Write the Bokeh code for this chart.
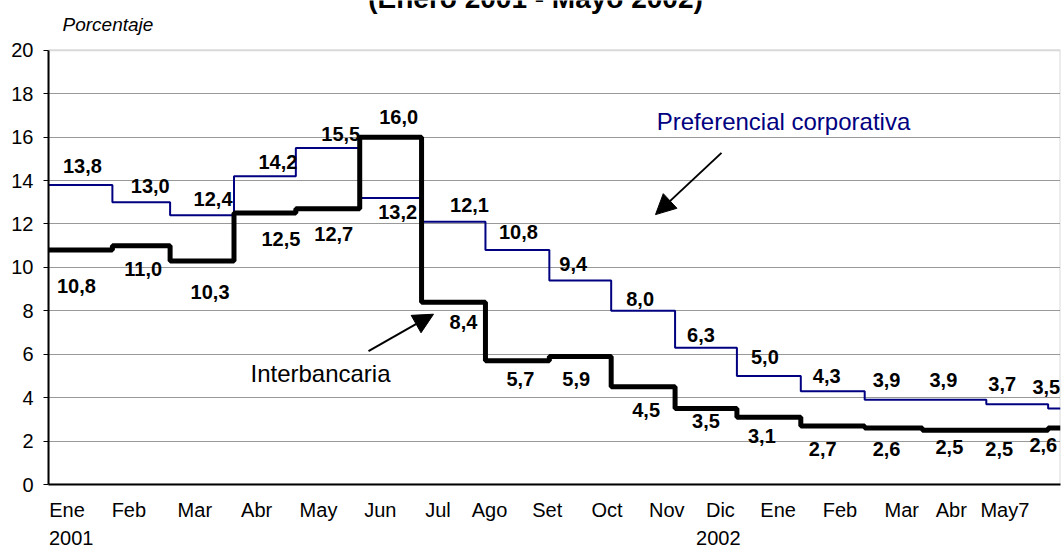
from bokeh.plotting import figure
from bokeh.models import Range1d, FixedTicker, LinearAxis, Label, Arrow, NormalHead, BoxAnnotation
from bokeh.embed import file_html
from bokeh.resources import INLINE
from bokeh.core.properties import value
import pandas as pd

# ---------------- data ----------------
period_starts = ["2001-01-01", "2001-02-01", "2001-03-01", "2001-04-01", "2001-05-01",
                 "2001-06-01", "2001-07-01", "2001-08-01", "2001-09-01", "2001-10-01",
                 "2001-11-01", "2001-12-01", "2002-01-01", "2002-02-01", "2002-03-01",
                 "2002-04-01", "2002-05-01"]
period_end = "2002-05-07"
preferencial = [13.8, 13.0, 12.4, 14.2, 15.5, 13.2, 12.1, 10.8, 9.4, 8.0, 6.3, 5.0, 4.3, 3.9, 3.9, 3.7, 3.5]
interbancaria = [10.8, 11.0, 10.3, 12.5, 12.7, 16.0, 8.4, 5.7, 5.9, 4.5, 3.5, 3.1, 2.7, 2.6, 2.5, 2.5, 2.6]
month_labels = ["Ene", "Feb", "Mar", "Abr", "May", "Jun", "Jul", "Ago", "Set", "Oct",
                "Nov", "Dic", "Ene", "Feb", "Mar", "Abr", "May7"]
year_labels = ["2001", "2002"]
y_max = 20
y_ticks = list(range(0, y_max + 1, 2))

# ---------------- styles / placement ----------------
W, H = 1062, 547
B_LEFT, B_RIGHT, B_BOTTOM = 48, 2, 61
PLOT_TOP_GAP = 50          # pixels between canvas top and the "20" line
month_label_pos = [9, 39, 71, 101, 131, 161, 189, 214, 242, 271, 300, 326, 354, 384, 414, 438, 464]
year_label_pos = [11, 325]
pref_dx = [2, 9, 11, 13, 13, 7, 16, 1, -7, -3, -5, -4, -6, -7, -11, -15, -8]
pref_dy = [-19, -16, -16, -14, -14, 14, -17, -18, -16, -12, -13, -19, -15, -20, -20, -20, -22]
inter_dx = [-4, 2, 8, 16, 6, 8, 10, 3, -4, 3, 0, -7, -10, -7, -5, -18, -11]
inter_dy = [36, 23, 31, 26, 25, -20, 20, 18, 23, 23, 12, 19, 23, 21, 17, 19, 17]

FONT = "Liberation Sans"
NAVY = "#000080"
GREY = "#808080"

origin = pd.Timestamp(period_starts[0])
starts = [(pd.Timestamp(s) - origin).days for s in period_starts]
end_day = (pd.Timestamp(period_end) - origin).days
xs = starts + [end_day]
mids = [(xs[i] + xs[i + 1]) / 2 for i in range(len(starts))]

frame_h = H - B_BOTTOM
y_top = y_max * frame_h / (frame_h - PLOT_TOP_GAP)
px_per_unit = (frame_h - PLOT_TOP_GAP) / y_max
px_per_day = (W - B_LEFT - B_RIGHT) / end_day

def fmt(v):
    return f"{v:.1f}".replace(".", ",")

def sx(px):  # page x pixel -> data x
    return (px - B_LEFT) / px_per_day

def sy(py):  # page y pixel -> data y
    return (frame_h - py) / px_per_unit

p = figure(width=W, height=H, output_backend="svg", toolbar_location=None,
           x_range=Range1d(0, end_day), y_range=Range1d(0, y_top),
           min_border_left=B_LEFT, min_border_right=B_RIGHT, min_border_top=0,
           min_border_bottom=B_BOTTOM)
p.outline_line_color = None
p.background_fill_color = "white"
p.border_fill_color = "white"

# plot-area box (grey top/right border)
p.add_layout(BoxAnnotation(left=0, right=end_day, bottom=0, top=y_max, fill_alpha=0,
                           line_color=GREY, line_width=2, level="underlay"))

# axes
p.yaxis.ticker = FixedTicker(ticks=y_ticks)
p.yaxis.bounds = (0, y_max)
p.yaxis.major_tick_out = 5
p.yaxis.major_tick_in = 0
p.yaxis.minor_tick_line_color = None
p.yaxis.axis_line_width = 2
p.yaxis.axis_line_color = "black"
p.yaxis.major_tick_line_color = "black"
p.yaxis.major_label_standoff = 10
p.yaxis.major_label_text_font = FONT
p.yaxis.major_label_text_font_size = "20px"
p.yaxis.major_label_text_color = "black"

p.xaxis.ticker = FixedTicker(ticks=month_label_pos)
p.xaxis.major_label_overrides = {pos: lab for pos, lab in zip(month_label_pos, month_labels)}
p.xaxis.major_tick_line_color = None
p.xaxis.minor_tick_line_color = None
p.xaxis.major_tick_out = 0
p.xaxis.major_tick_in = 0
p.xaxis.axis_line_width = 2
p.xaxis.axis_line_color = "black"
p.xaxis.major_label_standoff = 14
p.xaxis.major_label_text_font = FONT
p.xaxis.major_label_text_font_size = "20px"
p.xaxis.major_label_text_color = "black"

year_axis = LinearAxis(ticker=FixedTicker(ticks=year_label_pos),
                       major_label_overrides={pos: lab for pos, lab in zip(year_label_pos, year_labels)},
                       axis_line_color=None, major_tick_line_color=None, minor_tick_line_color=None,
                       major_tick_out=0, major_tick_in=0, major_label_standoff=7,
                       major_label_text_font=FONT, major_label_text_font_size="20px",
                       major_label_text_color="black")
p.add_layout(year_axis, "below")

p.xgrid.visible = False
p.ygrid.ticker = FixedTicker(ticks=y_ticks[1:-1])
p.ygrid.grid_line_color = "black"
p.ygrid.grid_line_dash = "1 1"
p.ygrid.grid_line_width = 1
p.ygrid.grid_line_alpha = 0.8

# lines
p.step(xs, preferencial + [preferencial[-1]], mode="after", line_color=NAVY, line_width=2)
p.step(xs, interbancaria + [interbancaria[-1]], mode="after", line_color="black", line_width=5)

# value labels
p.text(x=mids, y=preferencial, text=[fmt(v) for v in preferencial],
       x_offset=pref_dx, y_offset=pref_dy, text_align="center", text_baseline="middle",
       text_font=value(FONT), text_font_style="bold", text_font_size="20px", text_color="black")
p.text(x=mids, y=interbancaria, text=[fmt(v) for v in interbancaria],
       x_offset=inter_dx, y_offset=inter_dy, text_align="center", text_baseline="middle",
       text_font=value(FONT), text_font_style="bold", text_font_size="20px", text_color="black")

# annotations
p.add_layout(Label(x=sx(535), y=sy(-2), text="(Enero 2001 - Mayo 2002)", text_align="center",
                   text_baseline="alphabetic", text_font=FONT, text_font_style="bold",
                   text_font_size="28px", text_color="black"))
p.add_layout(Label(x=sx(62), y=sy(24), text="Porcentaje", text_align="left", text_baseline="middle",
                   text_font=FONT, text_font_style="italic", text_font_size="19px", text_color="black"))
p.add_layout(Label(x=sx(783), y=sy(121), text="Preferencial corporativa", text_align="center",
                   text_baseline="middle", text_font=FONT, text_font_size="24px", text_color=NAVY))
p.add_layout(Label(x=sx(320), y=sy(375), text="Interbancaria", text_align="center",
                   text_baseline="middle", text_font=FONT, text_font_size="24px", text_color="black"))
p.add_layout(Arrow(end=NormalHead(size=20, fill_color="black", line_color="black"),
                   x_start=sx(721), y_start=sy(153), x_end=sx(655), y_end=sy(215),
                   line_color="black", line_width=2))
p.add_layout(Arrow(end=NormalHead(size=20, fill_color="black", line_color="black"),
                   x_start=sx(368), y_start=sy(352), x_end=sx(433), y_end=sy(315),
                   line_color="black", line_width=2))

open("out.html", "w").write(file_html(p, INLINE))
